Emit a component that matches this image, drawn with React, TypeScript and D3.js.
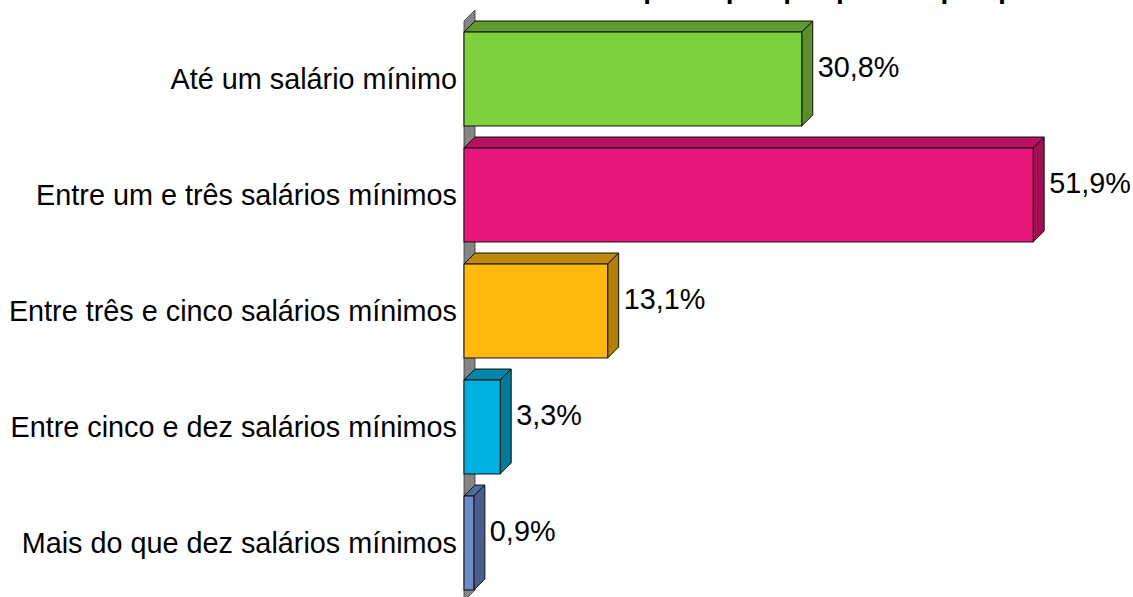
import React from "react";
import * as d3 from "d3";

const categories = [
  "Até um salário mínimo",
  "Entre um e três salários mínimos",
  "Entre três e cinco salários mínimos",
  "Entre cinco e dez salários mínimos",
  "Mais do que dez salários mínimos",
];
const values = [30.8, 51.9, 13.1, 3.3, 0.9];
const valueLabels = ["30,8%", "51,9%", "13,1%", "3,3%", "0,9%"];
const frontColors = ["#7ED13D", "#E8177B", "#FFB80E", "#00B0DE", "#6E8BCA"];
const topColors = ["#5F9A2D", "#B7125F", "#BF8A0B", "#0086A6", "#52699B"];
const sideColors = ["#5A8E2A", "#A20F52", "#B0800A", "#007A97", "#4A5D8C"];
const title = "Renda mensal per capita por pessoa pesquisada";

const W = 1133;
const H = 597;
const D = 11;
const FONT = "'Liberation Sans', Arial, sans-serif";
const FS = 28.8;

export default function App() {
  const x = d3.scaleLinear().domain([0, 60]).range([464, 1122]);
  const y = d3
    .scaleBand<string>()
    .domain(categories)
    .range([21, 601])
    .paddingInner(0.19)
    .paddingOuter(0.095);
  const bw = y.bandwidth();
  const x0 = x(0);
  const [yTop, yBot] = y.range();

  const poly = (pts: [number, number][]) => pts.map((p) => p.join(",")).join(" ");

  return (
    <svg
      width={W}
      height={H}
      style={{ position: "absolute", left: 0, top: 0, background: "#fff" }}
      fontFamily={FONT}
    >
      <text
        x={770}
        y={-2}
        textAnchor="middle"
        fontSize={28}
        fontWeight="bold"
        fill="#000"
      >
        {title}
      </text>
      {/* left wall */}
      <polygon
        points={poly([
          [x0, yTop],
          [x0 + D, yTop - D],
          [x0 + D, yBot - D],
          [x0, yBot],
        ])}
        fill="#858585"
        stroke="#333"
        strokeWidth={0.8}
      />
      {categories.map((c, i) => {
        const yy = y(c)!;
        const x1 = x(values[i]);
        return (
          <g key={c}>
            <polygon
              points={poly([
                [x0, yy],
                [x0 + D, yy - D],
                [x1 + D, yy - D],
                [x1, yy],
              ])}
              fill={topColors[i]}
              stroke="#111"
              strokeWidth={1}
              strokeLinejoin="round"
            />
            <polygon
              points={poly([
                [x1, yy],
                [x1 + D, yy - D],
                [x1 + D, yy + bw - D],
                [x1, yy + bw],
              ])}
              fill={sideColors[i]}
              stroke="#111"
              strokeWidth={1}
              strokeLinejoin="round"
            />
            <rect
              x={x0}
              y={yy}
              width={x1 - x0}
              height={bw}
              fill={frontColors[i]}
              stroke="#111"
              strokeWidth={1}
            />
            <text
              x={x1 + D + 5}
              y={yy + bw / 2 - 2}
              fontSize={FS}
              fill="#000"
            >
              {valueLabels[i]}
            </text>
            <text
              x={457}
              y={yy + bw / 2 + 9.5}
              fontSize={FS}
              textAnchor="end"
              fill="#000"
            >
              {c}
            </text>
          </g>
        );
      })}
    </svg>
  );
}
